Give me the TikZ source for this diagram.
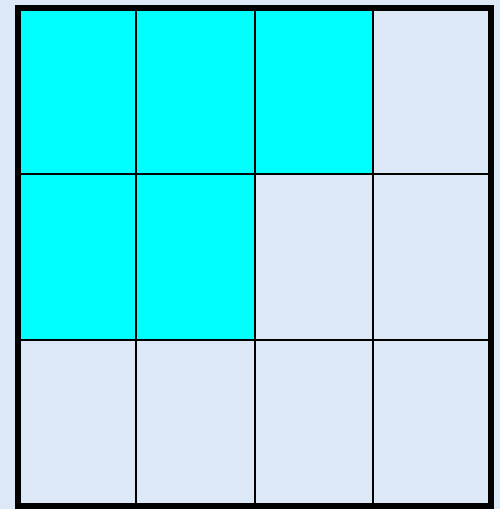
\documentclass[tikz,border=0pt]{standalone}
\definecolor{bgblue}{RGB}{220,232,246}
\definecolor{fillcyan}{RGB}{0,255,255}
\tikzset{cellfill/.style={fill=fillcyan},
  gridline/.style={line width=2.5pt,black},
  outerline/.style={line width=6pt,black}}
\begin{document}
\begin{tikzpicture}[x=1pt,y=-1pt]
\fill[bgblue] (0,0) rectangle (500,509);
\useasboundingbox (0,0) rectangle (500,509);
% cyan cells
\fill[cellfill] (18,7.5) rectangle (373,174);
\fill[cellfill] (18,174) rectangle (255,340);
% inner lines
\foreach \x in {136,255,373} \draw[gridline] (\x,7.5) -- (\x,506);
\foreach \y in {174,340} \draw[gridline] (18,\y) -- (491,\y);
% outer border
\draw[outerline] (18,7.5) rectangle (491,506);
\end{tikzpicture}
\end{document}
